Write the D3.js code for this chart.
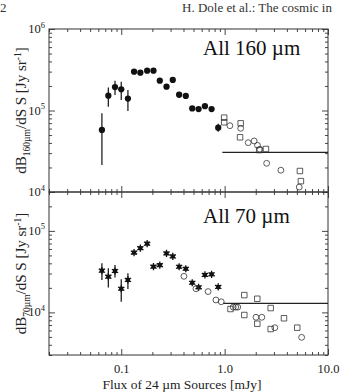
<!DOCTYPE html>
<html>
<head>
<meta charset="utf-8">
<script src="https://cdn.jsdelivr.net/npm/d3@7"></script>
<style>
  body { margin: 0; background: #fff; }
  svg { display: block; font-family: "Liberation Serif", "Times New Roman", serif; }
</style>
</head>
<body>
<script>
// stacking bins in 24 um flux (mJy), same for both bands
const stackFlux = [0.065, 0.075, 0.087, 0.100, 0.116, 0.133, 0.153, 0.178, 0.205, 0.236,
  0.274, 0.315, 0.363, 0.421, 0.486, 0.560, 0.645, 0.748, 0.867];

const stack160 = [5.77e4, 1.52e5, 1.94e5, 1.82e5, 1.40e5, 2.99e5, 2.91e5, 3.08e5, 3.08e5, 2.32e5,
  1.96e5, 2.37e5, 1.56e5, 1.51e5, 1.06e5, 1.04e5, 1.13e5, 1.04e5, 6.15e4];
const stack160Lo = [2.14e4, 1.11e5, 1.55e5, 1.35e5, 9.86e4, 2.82e5, 2.74e5, 2.90e5, 2.90e5, 2.18e5,
  1.84e5, 2.23e5, 1.47e5, 1.42e5, 9.96e4, 9.78e4, 1.06e5, 9.78e4, 5.50e4];
const stack160Hi = [9.25e4, 1.91e5, 2.32e5, 2.25e5, 1.79e5, 3.17e5, 3.08e5, 3.27e5, 3.27e5, 2.46e5,
  2.08e5, 2.51e5, 1.65e5, 1.60e5, 1.12e5, 1.10e5, 1.20e5, 1.10e5, 6.90e4];

const stack70 = [3.25e4, 2.74e4, 3.22e4, 1.95e4, 2.50e4, 5.41e4, 6.14e4, 6.97e4, 3.64e4, 3.80e4,
  5.29e4, 4.86e4, 3.63e4, 3.43e4, 2.31e4, 2.03e4, 2.88e4, 2.93e4, 2.05e4];
const stack70Lo = [2.50e4, 2.02e4, 2.67e4, 1.35e4, 1.94e4];
const stack70Hi = [4.00e4, 3.48e4, 3.82e4, 2.55e4, 3.02e4];

// resolved sources, two fields
const circ160Flux = [1.125, 1.43, 1.69, 1.93, 2.08, 2.19, 2.55, 3.50, 5.27];
const circ160 = [6.51e4, 6.05e4, 4.03e4, 4.23e4, 3.74e4, 3.34e4, 2.25e4, 1.85e4, 1.15e4];
const sq160Flux = [0.99, 0.99, 1.43, 1.41, 2.16, 2.51, 5.35, 5.47];
const sq160 = [8.17e4, 7.17e4, 6.96e4, 4.69e4, 3.27e4, 3.37e4, 1.81e4, 1.36e4];

const circ70Flux = [0.404, 0.528, 0.692, 0.824, 0.927, 1.21, 1.28, 1.34, 2.01, 2.29, 3.06, 5.56];
const circ70 = [2.77e4, 1.95e4, 1.80e4, 1.42e4, 1.35e4, 1.16e4, 1.16e4, 1.16e4, 8.71e3, 8.71e3, 6.49e3, 4.94e3];
const sq70Flux = [1.14, 1.55, 1.55, 2.07, 2.07, 2.79, 2.79, 3.75, 5.04];
const sq70 = [1.10e4, 1.63e4, 9.29e3, 1.47e4, 7.26e3, 1.13e4, 6.25e3, 8.47e3, 6.49e3];

// horizontal levels: [start flux, level]
const level160 = [0.95, 3.07e4];
const level70 = [0.97, 1.29e4];

const xDomain = [0.02, 10];
const xTickLabels = [0.1, 1, 10];

const WIDTH = 340;
const HEIGHT = 392;
const INK = "#222";

const svg = d3.select("body").append("svg").attr("width", WIDTH).attr("height", HEIGHT);
const xScale = d3.scaleLog().domain(xDomain).range([49, 328]);

const isDecade = (v) => Math.abs(Math.log10(v) - Math.round(Math.log10(v))) < 1e-6;

class CountsPanel {
  #g;
  #y;
  #top;
  #bottom;

  constructor(svg, yDomain, top, bottom) {
    this.#top = top;
    this.#bottom = bottom;
    this.#y = d3.scaleLog().domain(yDomain).range([bottom, top]);
    this.#g = svg.append("g");
  }

  drawFrame() {
    const [x0, x1] = xScale.range();
    this.#g.append("rect")
      .attr("x", x0).attr("y", this.#top)
      .attr("width", x1 - x0).attr("height", this.#bottom - this.#top)
      .attr("fill", "none").attr("stroke", "#333").attr("stroke-width", 1);

    const xt = xScale.ticks();
    const yt = this.#y.ticks();
    const sides = [
      [d3.axisBottom, xScale, xt, `translate(0,${this.#bottom})`],
      [d3.axisTop, xScale, xt, `translate(0,${this.#top})`],
      [d3.axisLeft, this.#y, yt, `translate(${x0},0)`],
      [d3.axisRight, this.#y, yt, `translate(${x1},0)`],
    ];
    sides.forEach(([axisFn, scale, ticks, transform]) => {
      this.#ticks(axisFn, scale, ticks.filter(isDecade), 6, transform);
      this.#ticks(axisFn, scale, ticks.filter((v) => !isDecade(v)), 3, transform);
    });
  }

  #ticks(axisFn, scale, values, size, transform) {
    this.#g.append("g")
      .attr("transform", transform)
      .call(axisFn(scale).tickValues(values).tickSize(-size).tickSizeOuter(0).tickFormat(""))
      .call((a) => a.select(".domain").remove())
      .call((a) => a.selectAll("line").attr("stroke", "#333").attr("stroke-width", 0.9));
  }

  drawYLabels() {
    const labels = this.#g.append("g")
      .selectAll("text")
      .data(this.#y.ticks().filter(isDecade))
      .join("text")
      .attr("x", 45)
      .attr("y", (d) => this.#y(d) + 4)
      .attr("text-anchor", "end")
      .attr("fill", INK)
      .attr("font-size", 12.5);
    labels.append("tspan").text("10");
    labels.append("tspan")
      .attr("dy", -5.5)
      .attr("font-size", 8.5)
      .text((d) => Math.round(Math.log10(d)));
  }

  drawYTitle(band) {
    const mid = (this.#top + this.#bottom) / 2;
    const t = this.#g.append("text")
      .attr("transform", `translate(26,${mid}) rotate(-90)`)
      .attr("text-anchor", "middle")
      .attr("fill", INK)
      .attr("font-size", 15);
    t.append("tspan").text("dB");
    t.append("tspan").attr("dy", 3.5).attr("font-size", 9.5).text(band);
    t.append("tspan").attr("dy", -3.5).text("/dS S [Jy sr");
    t.append("tspan").attr("dy", -5.5).attr("font-size", 9.5).text("-1");
    t.append("tspan").attr("dy", 5.5).text("]");
  }

  drawErrorBars(flux, lo, hi) {
    this.#g.append("g")
      .selectAll("line")
      .data(lo.map((l, i) => ({ x: flux[i], lo: l, hi: hi[i] })))
      .join("line")
      .attr("x1", (d) => xScale(d.x)).attr("x2", (d) => xScale(d.x))
      .attr("y1", (d) => this.#y(d.lo)).attr("y2", (d) => this.#y(d.hi))
      .attr("stroke", INK).attr("stroke-width", 1.3);
  }

  drawMarkers(flux, values, kind) {
    const pts = values.map((v, i) => ({ x: flux[i], y: v }));
    const sel = this.#g.append("g")
      .selectAll("g")
      .data(pts)
      .join("g")
      .attr("transform", (d) => `translate(${xScale(d.x)},${this.#y(d.y)})`);

    if (kind === "dot") {
      sel.append("path").attr("d", d3.symbol(d3.symbolCircle, 31)).attr("fill", "#111");
    } else if (kind === "star") {
      sel.append("path").attr("d", d3.symbol(d3.symbolSquare, 17)).attr("fill", "#111");
      sel.append("path").attr("d", d3.symbol(d3.symbolAsterisk, 36))
        .attr("fill", "none").attr("stroke", "#111").attr("stroke-width", 1.3);
    } else if (kind === "circle") {
      sel.append("path").attr("d", d3.symbol(d3.symbolCircle, 27))
        .attr("fill", "none").attr("stroke", "#333").attr("stroke-width", 0.8);
    } else {
      sel.append("path").attr("d", d3.symbol(d3.symbolSquare, 30))
        .attr("fill", "none").attr("stroke", "#333").attr("stroke-width", 0.8);
    }
  }

  drawLevel([from, level]) {
    this.#g.append("line")
      .attr("x1", xScale(from)).attr("x2", xScale.range()[1])
      .attr("y1", this.#y(level)).attr("y2", this.#y(level))
      .attr("stroke", INK).attr("stroke-width", 1.3);
  }

  drawTag(text, x, y) {
    this.#g.append("text")
      .attr("x", x).attr("y", y)
      .attr("fill", "#111")
      .attr("font-size", 21)
      .text(text);
  }

  drawXLabels() {
    this.#g.append("g")
      .attr("transform", `translate(0,${this.#bottom})`)
      .call(d3.axisBottom(xScale).tickValues(xTickLabels).tickSize(0).tickPadding(9)
        .tickFormat(d3.format(".1f")))
      .call((a) => a.select(".domain").remove())
      .call((a) => a.selectAll("text")
        .attr("fill", INK)
        .attr("font-size", 12.5)
        .attr("font-family", "Liberation Serif, serif"));
  }
}

// running header of the page
svg.append("text").attr("x", 0).attr("y", 12).attr("font-size", 13).attr("fill", "#333").text("2");
svg.append("text").attr("x", 182).attr("y", 12).attr("font-size", 13).attr("fill", "#333")
  .text("H. Dole et al.: The cosmic in");

const upper = new CountsPanel(svg, [1e4, 1e6], 29, 192);
upper.drawFrame();
upper.drawYLabels();
upper.drawYTitle("160µm");
upper.drawLevel(level160);
upper.drawErrorBars(stackFlux, stack160Lo, stack160Hi);
upper.drawMarkers(stackFlux, stack160, "dot");
upper.drawMarkers(sq160Flux, sq160, "square");
upper.drawMarkers(circ160Flux, circ160, "circle");
upper.drawTag("All 160 µm", 203, 55);

const lower = new CountsPanel(svg, [3e3, 3e5], 192, 355);
lower.drawFrame();
lower.drawYLabels();
lower.drawYTitle("70µm");
lower.drawLevel(level70);
lower.drawErrorBars(stackFlux, stack70Lo, stack70Hi);
lower.drawMarkers(stackFlux, stack70, "star");
lower.drawMarkers(sq70Flux, sq70, "square");
lower.drawMarkers(circ70Flux, circ70, "circle");
lower.drawTag("All 70 µm", 203, 223);
lower.drawXLabels();

svg.append("text")
  .attr("x", 182).attr("y", 389)
  .attr("text-anchor", "middle")
  .attr("font-size", 13.5)
  .attr("fill", INK)
  .text("Flux of 24 µm Sources [mJy]");
</script>
</body>
</html>
